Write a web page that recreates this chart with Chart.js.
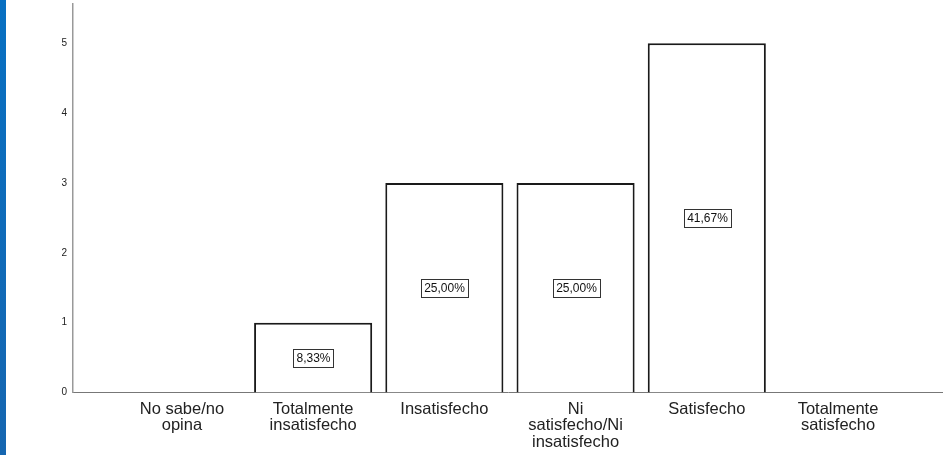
<!DOCTYPE html>
<html>
<head>
<meta charset="utf-8">
<script src="https://cdn.jsdelivr.net/npm/chart.js@4/dist/chart.umd.min.js"></script>
<style>
  body { margin: 0; background: #fff; }
  #wrap { position: relative; width: 943px; height: 455px; }
  #strip { position: absolute; left: 0; top: 0; width: 6px; height: 455px;
           background: linear-gradient(#0870c2, #1666b0); z-index: 2; }
</style>
</head>
<body>
<div id="wrap">
  <div id="strip"></div>
  <canvas id="satChart"></canvas>
</div>
<script>
// categories and counts
const categories = [
    ['No sabe/no', 'opina'],
    ['Totalmente', 'insatisfecho'],
    'Insatisfecho',
    ['Ni', 'satisfecho/Ni', 'insatisfecho'],
    'Satisfecho',
    ['Totalmente', 'satisfecho']
];
const counts = [0, 1, 3, 3, 5, 0];
const pctLabels = ['', '8,33%', '25,00%', '25,00%', '41,67%', ''];
const yTicks = [0, 1, 2, 3, 4, 5];

// boxed percentage inside each bar
const pctBoxes = {
    id: 'pctBoxes',
    afterDatasetsDraw(chart) {
        const ctx = chart.ctx;
        const meta = chart.getDatasetMeta(0);
        ctx.save();
        ctx.font = '12px "Liberation Sans", Arial, sans-serif';
        ctx.textAlign = 'center';
        ctx.textBaseline = 'middle';
        meta.data.forEach((bar, i) => {
            if (!pctLabels[i]) return;
            const p = bar.getProps(['x', 'y', 'base'], true);
            const cx = Math.round(p.x);
            const cy = Math.round((p.y + p.base) / 2);
            const w = Math.round(ctx.measureText(pctLabels[i]).width) + 6;
            const h = 18;
            const left = Math.round(cx - w / 2);
            ctx.fillStyle = '#fff';
            ctx.fillRect(left, cy - h / 2, w, h);
            ctx.strokeStyle = '#333';
            ctx.lineWidth = 1;
            ctx.strokeRect(left + 0.5, cy - h / 2 + 0.5, w, h);
            ctx.fillStyle = '#111';
            ctx.fillText(pctLabels[i], cx + 0.5, cy + 1);
        });
        ctx.restore();
    }
};

const ctx = document.getElementById('satChart').getContext('2d');
new Chart(ctx, {
    type: 'bar',
    data: {
        datasets: [{
            data: counts.map((v, i) => ({ x: i, y: v })),
            backgroundColor: '#ffffff',
            borderColor: '#1a1a1a',
            borderWidth: 2,
            barPercentage: 0.9,
            categoryPercentage: 1
        }]
    },
    options: {
        responsive: true,
        maintainAspectRatio: false,
        animation: false,
        events: [],
        layout: { padding: { top: 4, bottom: 0, left: 0, right: 0 } },
        plugins: { legend: { display: false }, tooltip: { enabled: false } },
        scales: {
            x: {
                type: 'linear',
                offset: false,
                min: -0.83,
                max: 5.8,
                grid: { display: false, drawTicks: false },
                border: { display: true, color: '#777', width: 1 },
                afterBuildTicks: scale => { scale.ticks = categories.map((_, i) => ({ value: i })); },
                afterFit: scale => { scale.height = 62.5; },
                ticks: {
                    autoSkip: false,
                    maxRotation: 0,
                    padding: 8.5,
                    color: '#222',
                    font: { family: '"Liberation Sans", Arial, sans-serif', size: 16.5, lineHeight: 1.0 },
                    callback: value => categories[value]
                }
            },
            y: {
                min: 0,
                max: 5.56,
                grid: { display: false, drawTicks: false },
                border: { display: true, color: '#999', width: 1.5 },
                afterFit: scale => { scale.width = 73; scale.paddingTop = 0; scale.paddingBottom = 0; },
                afterBuildTicks: scale => { scale.ticks = yTicks.map(v => ({ value: v })); },
                ticks: {
                    padding: 6,
                    color: '#222',
                    font: { family: '"Liberation Sans", Arial, sans-serif', size: 10 }
                }
            }
        }
    },
    plugins: [pctBoxes]
});
</script>
</body>
</html>
